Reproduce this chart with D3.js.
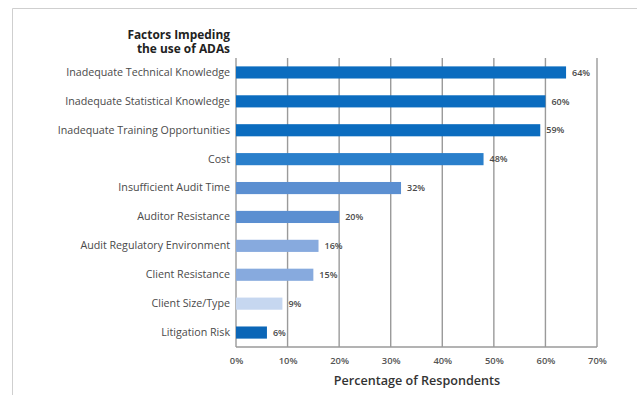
<!DOCTYPE html>
<html>
<head>
<meta charset="utf-8">
<script src="https://cdn.jsdelivr.net/npm/d3@7"></script>
<style>
  html, body { margin: 0; padding: 0; background: #fff; }
  svg { display: block; font-family: "Open Sans", "Liberation Sans", Arial, sans-serif; }
</style>
</head>
<body>
<svg id="chart" width="637" height="395"></svg>
<script>
// Survey factors and share of respondents citing each (%)
const categories = [
  "Inadequate Technical Knowledge",
  "Inadequate Statistical Knowledge",
  "Inadequate Training Opportunities",
  "Cost",
  "Insufficient Audit Time",
  "Auditor Resistance",
  "Audit Regulatory Environment",
  "Client Resistance",
  "Client Size/Type",
  "Litigation Risk"
];
const values = [64, 60, 59, 48, 32, 20, 16, 15, 9, 6];
const barColors = [
  "#0b6cbf", "#0b6cbf", "#0b6cbf", "#2a7fcb", "#5b8fd1",
  "#5b8fd1", "#87aade", "#87aade", "#c6d7f0", "#0b66b7"
];
const xTicks = [0, 10, 20, 30, 40, 50, 60, 70];
const titleLines = ["Factors Impeding", "the use of ADAs"];
const xAxisTitle = "Percentage of Respondents";

const font = "\"Open Sans\", \"Liberation Sans\", Arial, sans-serif";
const svg = d3.select("#chart");
const plotLeft = 236, plotRight = 597, plotTop = 58, plotBottom = 347;

// Outer frame: top and left rules
svg.append("line").attr("x1", 12.5).attr("x2", 637).attr("y1", 8.5).attr("y2", 8.5)
  .attr("stroke", "#cfcfcf").attr("stroke-width", 1);
svg.append("line").attr("x1", 12.5).attr("x2", 12.5).attr("y1", 8.5).attr("y2", 395)
  .attr("stroke", "#cfcfcf").attr("stroke-width", 1);

const x = d3.scaleLinear().domain([0, 70]).range([plotLeft, plotRight]);
const y = d3.scaleBand().domain(categories).range([plotTop, plotBottom])
  .paddingInner(0.58).paddingOuter(0.29);

// Vertical gridlines
svg.append("g").selectAll("line").data(xTicks).join("line")
  .attr("x1", d => x(d)).attr("x2", d => x(d))
  .attr("y1", plotTop).attr("y2", plotBottom)
  .attr("stroke", "#9a9a9a").attr("stroke-width", 1.4);

// Baseline
svg.append("line").attr("x1", plotLeft).attr("x2", plotRight)
  .attr("y1", plotBottom).attr("y2", plotBottom)
  .attr("stroke", "#9a9a9a").attr("stroke-width", 1.4);

// Bars
svg.append("g").selectAll("rect").data(values).join("rect")
  .attr("x", x(0))
  .attr("y", (d, i) => y(categories[i]))
  .attr("width", d => x(d) - x(0))
  .attr("height", y.bandwidth())
  .attr("fill", (d, i) => barColors[i]);

// Value labels
svg.append("g").selectAll("text").data(values).join("text")
  .attr("x", d => x(d) + 6)
  .attr("y", (d, i) => y(categories[i]) + y.bandwidth() / 2)
  .attr("dy", "0.35em")
  .attr("font-size", 9)
  .attr("font-weight", 600)
  .attr("fill", "#4a4a4a")
  .text(d => d + "%");

// Category labels
const yAxis = d3.axisLeft(y).tickSize(0).tickPadding(6);
const gy = svg.append("g").attr("transform", `translate(${plotLeft},0)`).call(yAxis);
gy.select(".domain").remove();
gy.selectAll("text").attr("font-size", 10.7).attr("fill", "#4a4a4a")
  .attr("font-family", font);

// Chart title over the category labels
svg.append("g").selectAll("text").data(titleLines).join("text")
  .attr("x", 230).attr("y", (d, i) => 38.5 + i * 14.5)
  .attr("text-anchor", "end")
  .attr("font-size", 11.9).attr("font-weight", 700).attr("fill", "#222")
  .text(d => d);

// X axis tick labels
const xAxis = d3.axisBottom(x).tickValues(xTicks).tickSize(0).tickPadding(10)
  .tickFormat(d => d + "%");
const gx = svg.append("g").attr("transform", `translate(0,${plotBottom})`).call(xAxis);
gx.select(".domain").remove();
gx.selectAll("text").attr("font-size", 9.4).attr("font-weight", 600).attr("fill", "#555")
  .attr("font-family", font);

// X axis title
svg.append("text").attr("x", 417).attr("y", 384.5)
  .attr("text-anchor", "middle")
  .attr("font-size", 12.6).attr("font-weight", 600).attr("fill", "#333")
  .text(xAxisTitle);
</script>
</body>
</html>
